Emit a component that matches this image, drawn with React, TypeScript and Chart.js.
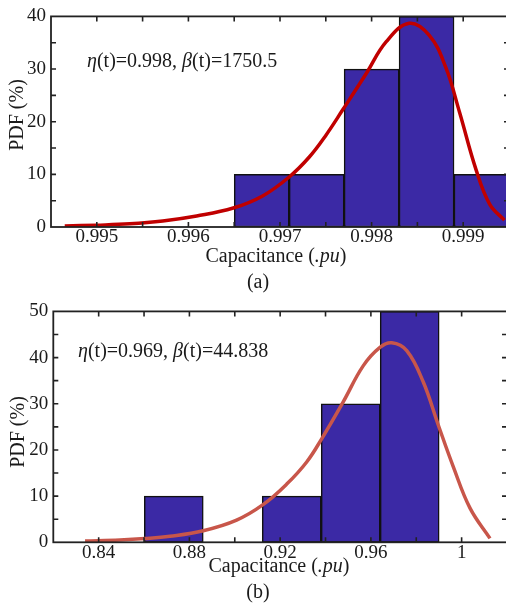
import React, { useEffect, useRef } from 'react';
import { Chart, registerables } from 'chart.js';

Chart.register(...registerables);

const FONT = '"Liberation Serif", "Times New Roman", serif';
const TXT = '#1a1a1a';
const AXIS = '#222222';
const BAR_FILL = '#3B29A5';
const BAR_EDGE = '#111111';

// ---------- chart (a) ----------
const binCentersA = [0.9968, 0.9974, 0.998, 0.9986, 0.9992];
const pdfA = [10, 10, 30, 40, 10];
const curveXA = [0.99465, 0.995, 0.99536, 0.99572, 0.99609, 0.99649, 0.99681, 0.9971, 0.99732, 0.9975, 0.99769, 0.99794, 0.99816, 0.99841, 0.99863, 0.99881, 0.99896, 0.99914, 0.99929, 0.99945];
const curveYA = [0.2, 0.35, 0.6, 1.15, 2.1, 3.6, 5.9, 9.5, 13.3, 17.4, 22.4, 29.1, 35.2, 38.7, 36.4, 30.3, 21.8, 10.9, 4.3, 1.3];
const xTicksA = [0.995, 0.996, 0.997, 0.998, 0.999];
const xTickLabelsA = ['0.995', '0.996', '0.997', '0.998', '0.999'];
const xMinorA = [0.995, 0.9955, 0.996, 0.9965, 0.997, 0.9975, 0.998, 0.9985, 0.999];
const yTicksA = [0, 10, 20, 30, 40];
const yMinorA = [5, 10, 15, 20, 25, 30, 35];
const annotA = ['η', '(t)=0.998, ', 'β', '(t)=1750.5'];

// ---------- chart (b) ----------
const binCentersB = [0.8731, 0.8991, 0.9251, 0.9511, 0.9771];
const pdfB = [10, 0, 10, 30, 50];
const curveXB = [0.834, 0.8494, 0.8604, 0.8714, 0.8861, 0.9008, 0.9126, 0.9229, 0.9317, 0.9383, 0.9478, 0.9566, 0.964, 0.9692, 0.9758, 0.9831, 0.9897, 0.9963, 1.0037, 1.0125];
const curveYB = [0.28, 0.49, 0.8, 1.3, 2.5, 4.8, 8.2, 12.6, 17.4, 22.4, 30.4, 38.2, 42.2, 43.2, 41.5, 34.7, 25.4, 16.4, 7.4, 0.85];
const xTicksB = [0.84, 0.88, 0.92, 0.96, 1.0];
const xTickLabelsB = ['0.84', '0.88', '0.92', '0.96', '1'];
const xMinorB = [0.84, 0.86, 0.88, 0.9, 0.92, 0.94, 0.96, 0.98, 1.0];
const yTicksB = [0, 10, 20, 30, 40, 50];
const yMinorB = [5, 10, 15, 20, 25, 30, 35, 40, 45];
const annotB = ['η', '(t)=0.969, ', 'β', '(t)=44.838'];

const xTitleParts = ['Capacitance (', '.pu', ')'];
const yTitle = 'PDF (%)';

type Seg = { t: string; it?: boolean };

function drawRich(ctx: CanvasRenderingContext2D, segs: Seg[], x: number, y: number, size: number, align: 'left' | 'center') {
  const fontOf = (s: Seg) => `${s.it ? 'italic ' : ''}${size}px ${FONT}`;
  let total = 0;
  for (const s of segs) {
    ctx.font = fontOf(s);
    total += ctx.measureText(s.t).width;
  }
  let cx = align === 'center' ? x - total / 2 : x;
  ctx.textBaseline = 'middle';
  ctx.textAlign = 'left';
  ctx.fillStyle = TXT;
  for (const s of segs) {
    ctx.font = fontOf(s);
    ctx.fillText(s.t, cx, y);
    cx += ctx.measureText(s.t).width;
  }
}

const overlay = {
  id: 'overlay',
  afterDraw(chart: any, _args: any, opts: any) {
    const ctx: CanvasRenderingContext2D = chart.ctx;
    const { left, right, top, bottom } = chart.chartArea;
    const xs = chart.scales.x;
    const ys = chart.scales.y;
    ctx.save();
    ctx.strokeStyle = AXIS;
    ctx.lineWidth = 1.6;
    const tl = 5;
    ctx.beginPath();
    for (const v of opts.xMinor) {
      const px = xs.getPixelForValue(v);
      ctx.moveTo(px, bottom);
      ctx.lineTo(px, bottom - tl);
      ctx.moveTo(px, top);
      ctx.lineTo(px, top + tl);
    }
    for (const v of opts.yMinor) {
      const py = ys.getPixelForValue(v);
      ctx.moveTo(left, py);
      ctx.lineTo(left + tl, py);
      ctx.moveTo(right, py);
      ctx.lineTo(right - tl, py);
    }
    ctx.stroke();
    ctx.lineWidth = 1.8;
    ctx.strokeRect(left, top, right - left, bottom - top);

    const a = opts.annot;
    drawRich(ctx, [{ t: a[0], it: true }, { t: a[1] }, { t: a[2], it: true }, { t: a[3] }], opts.annotX, opts.annotY, 20, 'left');
    drawRich(ctx, [{ t: xTitleParts[0] }, { t: xTitleParts[1], it: true }, { t: xTitleParts[2] }], opts.xTitleX, opts.xTitleY, 20, 'center');
    drawRich(ctx, [{ t: opts.panel }], opts.panelX, opts.panelY, 20, 'center');
    ctx.save();
    ctx.translate(opts.yTitleX, opts.yTitleY);
    ctx.rotate(-Math.PI / 2);
    drawRich(ctx, [{ t: yTitle }], 0, 0, 20, 'center');
    ctx.restore();
    ctx.restore();
  },
};

interface Spec {
  top: number;
  w: number;
  h: number;
  padTop: number;
  padRight: number;
  yWidth: number;
  xHeight: number;
  xMin: number;
  xMax: number;
  yMax: number;
  centers: number[];
  values: number[];
  cx: number[];
  cy: number[];
  lineColor: string;
  xTicks: number[];
  xLabels: string[];
  yTicks: number[];
  overlayOpts: any;
}

function HistChart({ spec }: { spec: Spec }) {
  const ref = useRef<HTMLCanvasElement>(null);
  useEffect(() => {
    const tickFont = { family: FONT, size: 19 };
    const chart = new Chart(ref.current as HTMLCanvasElement, {
      type: 'bar',
      data: {
        datasets: [
          {
            type: 'line',
            data: spec.cx.map((x, i) => ({ x, y: spec.cy[i] })),
            borderColor: spec.lineColor,
            borderWidth: 3.5,
            pointRadius: 0,
            tension: 0.4,
            fill: false,
            order: 0,
          } as any,
          {
            type: 'bar',
            data: spec.centers.map((x, i) => ({ x, y: spec.values[i] })),
            backgroundColor: BAR_FILL,
            borderColor: BAR_EDGE,
            borderWidth: (c: any) => (c.raw && c.raw.y === 0 ? 0 : 1.5),
            borderSkipped: false,
            barPercentage: 1,
            categoryPercentage: 1,
            order: 1,
          } as any,
        ],
      },
      options: {
        responsive: false,
        animation: false,
        devicePixelRatio: 1,
        layout: { padding: { top: spec.padTop, right: spec.padRight, left: 0, bottom: 0 } },
        plugins: {
          legend: { display: false },
          tooltip: { enabled: false },
          overlay: spec.overlayOpts,
        } as any,
        scales: {
          x: {
            type: 'linear',
            min: spec.xMin,
            max: spec.xMax,
            offset: false,
            grid: { display: false, drawTicks: false },
            border: { display: false },
            ticks: {
              font: tickFont,
              color: TXT,
              padding: -1,
              autoSkip: false,
              maxRotation: 0,
              callback: (_v: any, i: number) => spec.xLabels[i],
            },
            afterBuildTicks: (s: any) => {
              s.ticks = spec.xTicks.map((v) => ({ value: v }));
            },
            afterFit: (s: any) => {
              s.height = spec.xHeight;
            },
          },
          y: {
            type: 'linear',
            min: 0,
            max: spec.yMax,
            grid: { display: false, drawTicks: false },
            border: { display: false },
            ticks: {
              font: tickFont,
              color: TXT,
              padding: 5,
              callback: (_v: any, i: number) => String(spec.yTicks[i]),
            },
            afterBuildTicks: (s: any) => {
              s.ticks = spec.yTicks.map((v) => ({ value: v }));
            },
            afterFit: (s: any) => {
              s.width = spec.yWidth;
            },
          },
        },
      } as any,
      plugins: [overlay as any],
    });
    return () => chart.destroy();
  }, []);
  return (
    <canvas
      ref={ref}
      width={spec.w}
      height={spec.h}
      style={{ position: 'absolute', left: 0, top: spec.top, width: spec.w, height: spec.h }}
    />
  );
}

const specA: Spec = {
  top: 0,
  w: 512,
  h: 295,
  padTop: 6.5,
  padRight: 3,
  yWidth: 51,
  xHeight: 68,
  xMin: 0.9945,
  xMax: 0.9995,
  yMax: 40,
  centers: binCentersA,
  values: pdfA,
  cx: curveXA,
  cy: curveYA,
  lineColor: '#C00000',
  xTicks: xTicksA,
  xLabels: xTickLabelsA,
  yTicks: yTicksA,
  overlayOpts: {
    xMinor: xMinorA,
    yMinor: yMinorA,
    annot: annotA,
    annotX: 87,
    annotY: 62,
    xTitleX: 276,
    xTitleY: 257,
    panel: '(a)',
    panelX: 258,
    panelY: 283,
    yTitleX: 18,
    yTitleY: 115,
  },
};

const specB: Spec = {
  top: 295,
  w: 512,
  h: 315,
  padTop: 13.3,
  padRight: 5,
  yWidth: 53.3,
  xHeight: 67.7,
  xMin: 0.82,
  xMax: 1.02,
  yMax: 50,
  centers: binCentersB,
  values: pdfB,
  cx: curveXB,
  cy: curveYB,
  lineColor: '#C8564A',
  xTicks: xTicksB,
  xLabels: xTickLabelsB,
  yTicks: yTicksB,
  overlayOpts: {
    xMinor: xMinorB,
    yMinor: yMinorB,
    annot: annotB,
    annotX: 78,
    annotY: 57,
    xTitleX: 279,
    xTitleY: 272,
    panel: '(b)',
    panelX: 258,
    panelY: 298,
    yTitleX: 19,
    yTitleY: 137,
  },
};

export default function App() {
  return (
    <div
      style={{
        position: 'fixed',
        left: 0,
        top: 0,
        width: 506,
        height: 610,
        overflow: 'hidden',
        background: '#ffffff',
      }}
    >
      <HistChart spec={specA} />
      <HistChart spec={specB} />
    </div>
  );
}
